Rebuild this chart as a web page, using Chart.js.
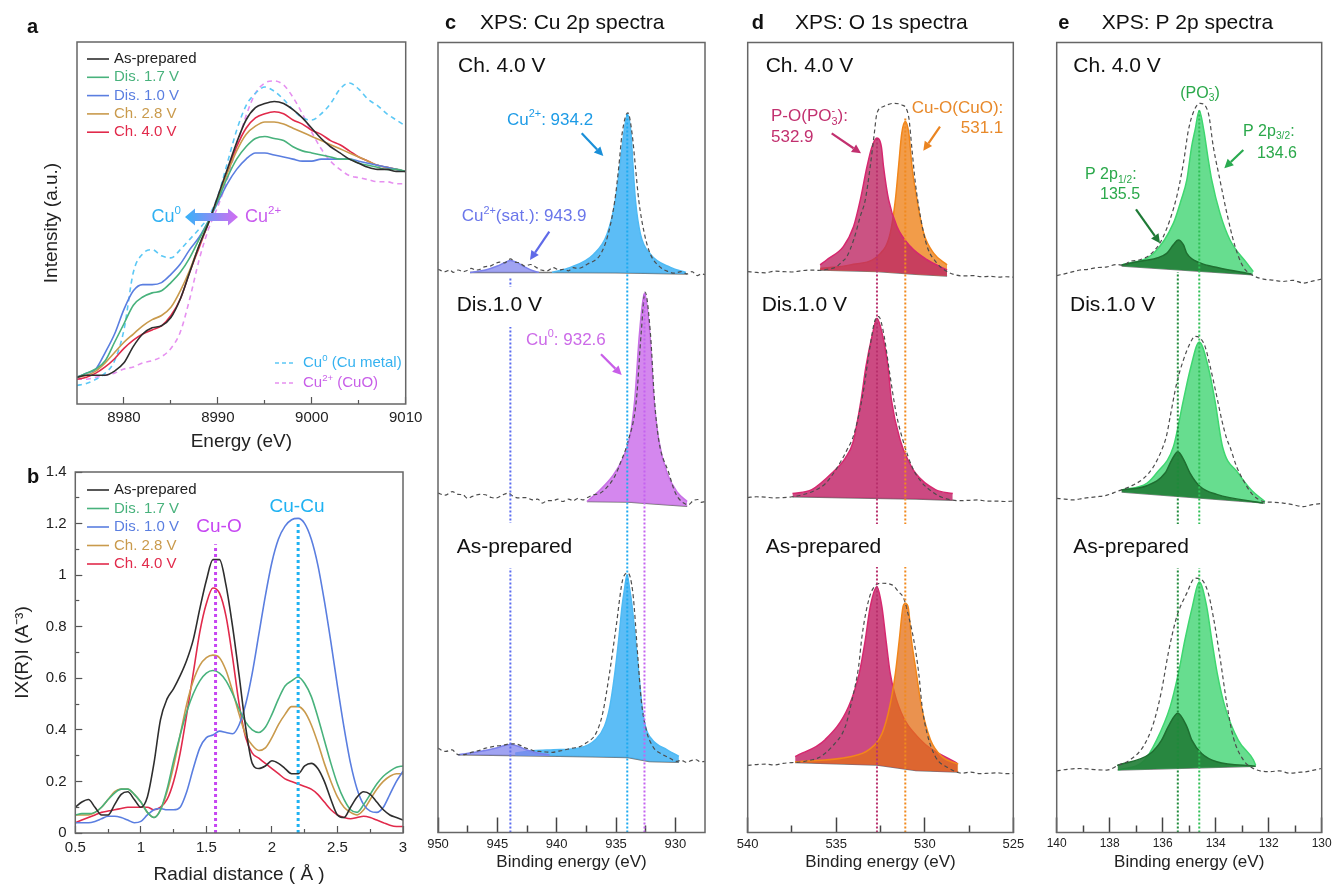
<!DOCTYPE html>
<html>
<head>
<meta charset="utf-8">
<script src="https://cdn.jsdelivr.net/npm/chart.js@4.4.0/dist/chart.umd.min.js"></script>
<style>
html, body { margin: 0; padding: 0; background: #fff; }
#wrap { position: relative; width: 1333px; height: 886px; overflow: hidden; background: #fff; }
canvas { position: absolute; }
</style>
</head>
<body>
<div id="wrap">
  <canvas id="chartA" width="440" height="455" style="left:0;top:0"></canvas>
  <canvas id="chartB" width="440" height="431" style="left:0;top:455px"></canvas>
  <canvas id="chartC" width="315" height="886" style="left:420px;top:0"></canvas>
  <canvas id="chartD" width="295" height="886" style="left:735px;top:0"></canvas>
  <canvas id="chartE" width="303" height="886" style="left:1030px;top:0"></canvas>
</div>
<script>
// ---------- DATA ----------
const seriesNames = ['As-prepared', 'Dis. 1.7 V', 'Dis. 1.0 V', 'Ch. 2.8 V', 'Ch. 4.0 V'];

// (a) Cu K-edge XANES, normalized
const xanesE = [8975, 8976, 8977, 8978, 8979, 8980, 8981, 8982, 8983, 8984, 8985, 8986, 8987, 8988, 8989, 8990, 8991, 8992,
  8993, 8994, 8995, 8996, 8997, 8998, 8999, 9000, 9001, 9002, 9003, 9004, 9005, 9006, 9007, 9008, 9009, 9010];
const xanesAsPrep = [0.00, 0.01, 0.01, 0.01, 0.03, 0.07, 0.15, 0.21, 0.24, 0.25, 0.29, 0.38, 0.51, 0.64, 0.75, 0.88, 1.01, 1.14,
  1.25, 1.31, 1.33, 1.34, 1.33, 1.30, 1.26, 1.21, 1.16, 1.12, 1.09, 1.06, 1.04, 1.02, 1.01, 1.01, 1.00, 1.00];
const xanesDis17 = [0.00, 0.02, 0.04, 0.08, 0.17, 0.26, 0.35, 0.39, 0.41, 0.42, 0.46, 0.51, 0.58, 0.67, 0.76, 0.86, 0.97, 1.06,
  1.12, 1.16, 1.17, 1.16, 1.15, 1.12, 1.10, 1.09, 1.08, 1.07, 1.06, 1.06, 1.04, 1.03, 1.02, 1.01, 1.01, 1.00];
const xanesDis10 = [0.00, 0.02, 0.04, 0.12, 0.21, 0.33, 0.42, 0.45, 0.45, 0.46, 0.50, 0.55, 0.62, 0.68, 0.76, 0.85, 0.94, 1.01,
  1.06, 1.09, 1.09, 1.08, 1.07, 1.06, 1.05, 1.05, 1.06, 1.06, 1.06, 1.06, 1.05, 1.04, 1.03, 1.02, 1.01, 1.00];
const xanesCh28 = [0.00, 0.01, 0.03, 0.07, 0.12, 0.17, 0.21, 0.25, 0.28, 0.30, 0.34, 0.42, 0.52, 0.64, 0.75, 0.87, 0.99, 1.10,
  1.18, 1.22, 1.24, 1.24, 1.23, 1.21, 1.19, 1.17, 1.15, 1.13, 1.11, 1.09, 1.07, 1.05, 1.03, 1.02, 1.01, 1.00];
const xanesCh40 = [-0.01, 0.00, 0.02, 0.05, 0.09, 0.14, 0.18, 0.21, 0.23, 0.25, 0.30, 0.38, 0.51, 0.63, 0.75, 0.87, 1.00, 1.12,
  1.21, 1.26, 1.28, 1.29, 1.28, 1.25, 1.23, 1.20, 1.18, 1.15, 1.13, 1.10, 1.07, 1.05, 1.03, 1.02, 1.01, 1.00];
const xanesCuMetal = [-0.04, -0.03, -0.01, 0.02, 0.08, 0.23, 0.51, 0.60, 0.62, 0.59, 0.58, 0.62, 0.67, 0.72, 0.78, 0.88, 1.04, 1.20,
  1.32, 1.38, 1.41, 1.39, 1.35, 1.30, 1.26, 1.25, 1.28, 1.33, 1.40, 1.43, 1.40, 1.35, 1.32, 1.28, 1.25, 1.22];
const xanesCuO = [-0.01, -0.01, 0.00, 0.01, 0.02, 0.04, 0.05, 0.07, 0.08, 0.10, 0.14, 0.22, 0.38, 0.57, 0.72, 0.83, 0.96, 1.12,
  1.27, 1.38, 1.43, 1.44, 1.42, 1.36, 1.28, 1.19, 1.11, 1.05, 1.01, 0.98, 0.97, 0.96, 0.95, 0.95, 0.94, 0.94];
const xanesTicks = [8980, 8990, 9000, 9010];
const xanesMinorTicks = [8985, 8995, 9005];

// (b) Fourier transformed EXAFS |X(R)|
const ftR = [0.5, 0.55, 0.6, 0.65, 0.7, 0.75, 0.8, 0.85, 0.9, 0.95, 1.0, 1.05, 1.1, 1.15, 1.2, 1.25, 1.3, 1.35, 1.4, 1.45,
  1.5, 1.55, 1.6, 1.65, 1.7, 1.75, 1.8, 1.85, 1.9, 1.95, 2.0, 2.05, 2.1, 2.15, 2.2, 2.25, 2.3, 2.35, 2.4, 2.45,
  2.5, 2.55, 2.6, 2.65, 2.7, 2.75, 2.8, 2.85, 2.9, 2.95, 3.0];
const ftAsPrep = [0.10, 0.12, 0.13, 0.10, 0.07, 0.07, 0.11, 0.15, 0.16, 0.13, 0.10, 0.14, 0.27, 0.44, 0.52, 0.56, 0.61, 0.67, 0.75, 0.87,
  0.98, 1.06, 1.06, 0.96, 0.80, 0.61, 0.41, 0.27, 0.25, 0.26, 0.28, 0.27, 0.25, 0.23, 0.23, 0.26, 0.27, 0.25, 0.20, 0.13,
  0.07, 0.06, 0.10, 0.14, 0.16, 0.15, 0.12, 0.09, 0.07, 0.06, 0.05];
const ftDis17 = [0.07, 0.075, 0.075, 0.08, 0.10, 0.13, 0.155, 0.17, 0.17, 0.15, 0.12, 0.08, 0.06, 0.09, 0.17, 0.28, 0.38, 0.47, 0.54, 0.59,
  0.62, 0.63, 0.62, 0.59, 0.54, 0.48, 0.43, 0.40, 0.39, 0.41, 0.46, 0.52, 0.57, 0.59, 0.605, 0.58, 0.53, 0.45, 0.36, 0.27,
  0.19, 0.13, 0.09, 0.08, 0.11, 0.15, 0.19, 0.22, 0.24, 0.255, 0.26];
const ftDis10 = [0.04, 0.04, 0.04, 0.045, 0.055, 0.065, 0.065, 0.06, 0.05, 0.04, 0.045, 0.07, 0.09, 0.095, 0.09, 0.09, 0.10, 0.16, 0.25, 0.33,
  0.37, 0.38, 0.395, 0.39, 0.385, 0.42, 0.50, 0.62, 0.77, 0.92, 1.05, 1.14, 1.19, 1.215, 1.22, 1.20, 1.14, 1.04, 0.90, 0.74,
  0.57, 0.41, 0.27, 0.17, 0.11, 0.085, 0.08, 0.10, 0.15, 0.20, 0.24];
const ftCh28 = [0.07, 0.07, 0.07, 0.08, 0.10, 0.13, 0.16, 0.17, 0.17, 0.15, 0.12, 0.08, 0.06, 0.09, 0.16, 0.26, 0.38, 0.50, 0.59, 0.65,
  0.68, 0.69, 0.68, 0.63, 0.55, 0.46, 0.38, 0.34, 0.32, 0.33, 0.37, 0.42, 0.46, 0.49, 0.49, 0.47, 0.42, 0.35, 0.27, 0.20,
  0.14, 0.10, 0.08, 0.07, 0.09, 0.13, 0.17, 0.20, 0.22, 0.23, 0.23];
const ftCh40 = [0.04, 0.05, 0.06, 0.07, 0.08, 0.085, 0.09, 0.095, 0.10, 0.10, 0.10, 0.10, 0.09, 0.10, 0.13, 0.20, 0.31, 0.46, 0.62, 0.78,
  0.89, 0.95, 0.93, 0.84, 0.68, 0.50, 0.37, 0.31, 0.29, 0.27, 0.25, 0.23, 0.21, 0.20, 0.19, 0.18, 0.17, 0.15, 0.12, 0.09,
  0.07, 0.06, 0.055, 0.06, 0.065, 0.06, 0.05, 0.04, 0.03, 0.025, 0.025];
const ftBondR = [1.57, 2.2];        // Cu-O, Cu-Cu
const ftBondTop = [1.12, 1.21];
const ftTicksX = [0.5, 1, 1.5, 2, 2.5, 3];
const ftMinorX = [0.75, 1.25, 1.75, 2.25, 2.75];
const ftTicksY = [0, 0.2, 0.4, 0.6, 0.8, 1, 1.2, 1.4];
const ftMinorY = [0.1, 0.3, 0.5, 0.7, 0.9, 1.1, 1.3];

// (c) XPS Cu 2p : [binding energy, intensity above spectrum baseline]
const cuCh40Env = [[950.0, 0.4], [949.7, 0.2], [949.4, 0.1], [949.0, 0.3], [948.7, 0.0], [948.3, 0.3], [947.9, 0.1], [947.6, 0.2],
  [947.2, 0.5], [946.8, 0.3], [946.45, 0.4], [946.1, 0.7], [945.6, 0.8], [945.2, 1.1], [944.8, 1.3], [944.4, 1.2], [943.9, 1.7],
  [943.5, 1.3], [943.1, 1.2], [942.7, 0.8], [942.2, 1.0], [941.7, 0.6], [941.3, 0.3], [940.8, 0.2], [940.3, 0.6], [939.8, 0.3],
  [939.4, 0.4], [939.0, 0.2], [938.6, 0.6], [938.2, 0.5], [937.4, 1.05], [936.3, 2.3], [935.66, 4.85], [935.1, 9.1],
  [934.77, 13.3], [934.49, 17.5], [934.0, 20.2], [933.64, 17.5], [933.36, 13.3], [933.08, 9.1], [932.6, 4.85], [932.1, 2.3],
  [931.25, 0.63], [930.6, 0.1], [930.1, -0.1], [929.5, 0.1], [929.0, -0.2], [928.6, 0.1], [928.15, -0.4], [927.8, -0.2], [927.5, -0.3]];
const cuCh40Main = [[940.4, 0.0], [938.85, 0.63], [936.88, 2.3], [935.75, 4.85], [935.05, 9.1], [934.69, 13.3], [934.35, 17.5],
  [934.05, 20.0], [933.73, 17.5], [933.56, 13.3], [933.36, 9.1], [932.94, 4.85], [932.1, 2.3], [930.41, 0.63], [929.1, 0.0]];
const cuCh40Sat = [[947.3, 0.0], [946.0, 0.3], [945.0, 0.8], [944.3, 1.3], [943.9, 1.5], [943.4, 1.3], [942.7, 0.7], [942.0, 0.2], [941.5, 0.0]];
const cuCh40Bg = [[947.3, 0.0], [940.0, 0.0], [935.0, -0.05], [929.0, -0.2]];

const cuDis10Env = [[950.0, 1.05], [949.4, 0.8], [948.8, 1.25], [948.3, 0.9], [947.9, 0.85], [947.5, 0.4], [947.1, 0.65], [946.5, 0.9],
  [946.0, 0.85], [945.5, 0.5], [945.1, 0.45], [944.6, 0.8], [944.1, 1.05], [943.6, 0.6], [943.2, 0.45], [942.6, 0.5], [942.0, 0.2],
  [941.6, 0.3], [941.2, -0.2], [940.8, 0.1], [940.3, 0.1], [939.9, 0.3], [939.5, 0.0], [939.0, 0.3], [938.6, 0.1], [938.2, 0.4],
  [937.8, 0.2], [937.4, 0.5], [936.9, 0.85], [936.4, 1.0], [935.7, 1.9], [935.1, 3.2], [934.6, 5.0], [934.03, 7.4], [933.28, 12.9],
  [932.88, 21.3], [932.55, 26.5], [932.1, 21.3], [931.76, 12.9], [931.4, 7.8], [930.55, 3.6], [929.99, 1.06], [929.3, -0.2],
  [928.9, -0.4], [928.5, 0.1], [928.1, 0.25], [927.8, -0.1], [927.5, 0.0]];
const cuDis10Main = [[937.45, 0.0], [936.6, 1.1], [935.3, 3.2], [934.5, 5.2], [933.83, 8.2], [933.42, 12.9], [933.02, 21.3], [932.6, 26.4],
  [932.15, 21.3], [931.8, 12.9], [931.4, 7.8], [930.7, 3.6], [929.8, 1.1], [929.0, 0.0]];
const cuDis10Bg = [[937.45, 0.0], [934.0, -0.05], [932.0, -0.3], [929.0, -0.6]];

const cuAsEnv = [[950.0, 0.84], [949.6, 0.5], [949.35, 0.42], [948.79, 0.63], [948.5, 0.2], [948.23, 0.0], [947.66, 0.05], [947.2, 0.3],
  [946.82, 0.42], [946.4, 0.6], [945.97, 0.84], [945.5, 1.0], [945.13, 1.1], [944.5, 1.2], [943.94, 1.39], [943.16, 1.26], [942.7, 0.9],
  [942.31, 0.72], [941.9, 0.5], [941.47, 0.42], [940.9, 0.35], [940.34, 0.3], [939.9, 0.45], [939.5, 0.55], [939.1, 0.7], [938.65, 0.84],
  [938.1, 1.0], [937.53, 1.48], [936.68, 2.74], [936.12, 5.27], [935.55, 10.3], [934.99, 16.2], [934.43, 22.2], [934.0, 23.0],
  [933.58, 20.5], [933.16, 12.4], [932.88, 7.0], [932.46, 3.2], [931.9, 1.05], [931.05, 0.0], [930.5, -0.4], [929.93, -0.84],
  [929.5, -0.7], [929.08, -0.97], [928.6, -0.7], [928.24, -0.63], [927.9, -0.9], [927.53, -0.84]];
const cuAsMain = [[943.5, 0.2], [942.0, 0.5], [940.26, 0.63], [938.0, 0.9], [936.74, 1.9], [935.97, 3.6], [935.52, 6.1], [935.1, 10.3],
  [934.77, 14.6], [934.49, 18.8], [934.29, 20.9], [934.07, 22.8], [933.84, 20.9], [933.64, 18.8], [933.36, 14.6], [933.08, 10.3],
  [932.8, 6.1], [932.52, 3.6], [931.95, 1.9], [930.69, 0.63], [929.7, -0.2]];
const cuAsSat = [[948.3, 0.0], [946.5, 0.4], [945.0, 0.9], [944.3, 1.2], [943.9, 1.3], [943.3, 1.1], [942.5, 0.6], [941.5, 0.2], [940.6, 0.0]];
const cuAsBg = [[948.3, 0.0], [937.0, -0.25], [934.0, -0.35], [932.2, -0.85], [929.7, -0.95]];

const cuPeakE = [943.9, 934.05, 932.6];     // sat., Cu2+, Cu0
const cuPeakTop = [70.2, 91.1, 68.3];
const cuTicks = [950, 945, 940, 935, 930];
const cuMinorTicks = [947.5, 942.5, 937.5, 932.5];

// (d) XPS O 1s
const oCh40Env = [[540.0, 0.0], [539.5, -0.1], [539.0, -0.15], [538.5, 0.05], [538.0, 0.0], [537.5, -0.05], [537.0, 0.1], [536.5, 0.2],
  [536.0, 0.15], [535.5, 0.3], [535.0, 0.6], [534.7, 1.2], [534.4, 1.9], [534.02, 4.0], [533.64, 7.0], [533.36, 9.07], [533.08, 13.3],
  [532.85, 17.5], [532.7, 20.05], [532.33, 20.9], [531.76, 21.3], [531.29, 21.1], [530.91, 19.6], [530.72, 15.4], [530.53, 11.2],
  [530.25, 7.0], [529.87, 3.2], [529.3, 1.05], [528.74, 0.0], [528.3, -0.4], [527.8, -0.55], [527.3, -0.5], [526.8, -0.65],
  [526.3, -0.6], [525.8, -0.7], [525.4, -0.65], [525.0, -0.7]];
const oCh40PO = [[535.91, 0.85], [535.53, 1.5], [534.59, 3.2], [534.02, 5.7], [533.64, 9.07], [533.26, 13.3], [532.98, 15.8], [532.7, 16.9],
  [532.45, 15.8], [532.33, 13.3], [532.04, 9.07], [531.57, 5.7], [530.82, 3.2], [529.87, 1.5], [528.74, 0.2]];
const oCh40CuO = [[535.91, 0.4], [534.21, 0.85], [532.51, 2.3], [531.95, 4.85], [531.66, 9.07], [531.48, 13.3], [531.3, 17.5], [531.1, 19.0],
  [530.9, 17.5], [530.72, 13.3], [530.44, 9.07], [530.06, 4.85], [529.49, 2.3], [528.74, 0.85]];
const oCh40Bg = [[535.91, 0.2], [532.7, 0.0], [530.5, -0.35], [528.74, -0.55]];

const oDis10Env = [[540.0, 0.0], [539.5, 0.1], [539.0, 0.05], [538.5, -0.05], [538.0, 0.0], [537.5, 0.1], [537.0, 0.3], [536.3, 0.8],
  [535.6, 1.8], [535.0, 3.6], [534.4, 6.0], [534.0, 8.0], [533.5, 13.0], [533.1, 19.0], [532.8, 22.5], [532.6, 22.9], [532.3, 20.5],
  [532.0, 16.0], [531.6, 10.5], [531.2, 7.0], [530.7, 3.8], [530.2, 2.0], [529.5, 0.6], [529.0, 0.0], [528.5, -0.3], [528.0, -0.4],
  [527.5, -0.35], [527.0, -0.3], [526.5, -0.45], [526.0, -0.45], [525.5, -0.5], [525.0, -0.45]];
const oDis10PO = [[537.47, 0.5], [536.38, 1.0], [535.24, 3.1], [534.49, 5.0], [534.05, 7.0], [533.6, 12.3], [533.32, 16.6], [532.94, 20.8],
  [532.7, 22.7], [532.41, 20.8], [532.08, 16.6], [531.88, 12.3], [531.35, 7.0], [531.0, 5.0], [530.53, 3.1], [529.4, 1.0], [528.42, 0.5]];
const oDis10Bg = [[537.47, 0.1], [533.0, -0.1], [530.5, -0.2], [528.42, -0.35]];

const oAsEnv = [[540.0, -0.05], [539.5, 0.05], [539.0, 0.1], [538.45, 0.0], [538.0, 0.2], [537.5, 0.3], [536.94, 0.4], [536.5, 0.6],
  [536.0, 0.9], [535.25, 2.3], [534.49, 4.85], [534.11, 8.2], [533.74, 12.4], [533.55, 16.2], [533.26, 20.0], [532.98, 22.1],
  [532.41, 23.0], [531.85, 22.8], [531.47, 21.9], [531.19, 21.1], [530.91, 18.8], [530.62, 15.8], [530.34, 11.6], [530.15, 7.4],
  [529.87, 4.0], [529.4, 1.05], [528.64, -0.4], [527.89, -1.05], [527.4, -0.9], [526.9, -1.1], [526.38, -1.05], [525.9, -1.0],
  [525.4, -1.1], [524.96, -1.05]];
const oAsPO = [[537.32, 1.05], [535.63, 3.2], [534.3, 7.4], [533.7, 11.6], [533.36, 15.8], [533.08, 20.0], [532.7, 22.55], [532.42, 20.0],
  [532.19, 15.8], [531.95, 11.6], [531.47, 7.4], [530.25, 3.2], [528.17, 0.2]];
const oAsCuO = [[537.32, 0.4], [534.22, 1.05], [533.17, 1.9], [532.41, 4.0], [531.98, 7.4], [531.66, 11.6], [531.44, 15.8], [531.23, 20.0],
  [531.1, 20.45], [530.94, 20.0], [530.75, 15.8], [530.47, 11.6], [530.19, 7.4], [529.68, 3.2], [529.02, 1.05], [528.11, 0.1]];
const oAsBg = [[537.32, 0.3], [532.7, 0.0], [530.5, -0.7], [528.1, -0.9]];

const oPeakE = [532.7, 531.1];     // P-O, Cu-O
const oPeakTop = [87.9, 90.6];
const oTicks = [540, 535, 530, 525];
const oMinorTicks = [537.5, 532.5, 527.5];

// (e) XPS P 2p
const pCh40Env = [[140.0, -0.6], [139.6, -0.3], [139.12, 0.1], [138.8, 0.2], [138.49, 0.4], [138.1, 0.5], [137.74, 0.8], [137.5, 0.7],
  [137.23, 1.2], [136.86, 1.4], [136.42, 2.2], [135.98, 4.3], [135.47, 9.4], [135.22, 13.6], [135.03, 17.8], [134.8, 20.4],
  [134.59, 21.2], [134.28, 20.0], [134.09, 15.7], [133.84, 11.5], [133.58, 7.3], [133.27, 3.1], [132.96, 0.5], [132.64, -0.5],
  [132.2, -1.05], [131.8, -1.2], [131.45, -1.35], [131.1, -1.2], [130.69, -1.55], [130.35, -1.3], [130.0, -1.05]];
const pCh40Main = [[137.55, 0.75], [136.35, 2.2], [135.6, 6.0], [135.3, 9.0], [135.09, 11.5], [134.91, 15.7], [134.78, 17.8], [134.62, 20.3],
  [134.45, 17.8], [134.3, 14.5], [134.15, 11.5], [133.84, 7.3], [133.46, 3.9], [132.83, 1.0], [132.58, -0.1]];
const pCh40Minor = [[137.55, 0.75], [136.86, 1.2], [135.85, 2.2], [135.6, 3.3], [135.41, 3.9], [135.22, 3.3], [135.09, 2.2], [134.59, 1.0],
  [133.9, 0.4], [132.65, -0.4]];
const pCh40Bg = [[137.55, 0.6], [132.6, -0.5]];

const pDis10Env = [[140.0, 0.0], [139.7, -0.1], [139.37, -0.2], [139.0, 0.0], [138.49, 0.2], [138.1, 0.4], [137.74, 0.85], [137.23, 1.5],
  [136.73, 2.5], [136.35, 4.0], [136.04, 6.1], [135.85, 8.0], [135.72, 10.3], [135.47, 14.6], [135.22, 17.5], [134.97, 19.6],
  [134.78, 20.5], [134.59, 20.3], [134.4, 19.2], [134.21, 16.7], [133.96, 12.9], [133.77, 9.9], [133.58, 7.5], [133.46, 6.5],
  [133.21, 4.0], [132.96, 2.3], [132.64, 0.6], [132.2, -0.4], [131.8, -0.5], [131.45, -0.6], [131.1, -0.8], [130.69, -1.05],
  [130.35, -0.8], [130.0, -0.65]];
const pDis10Main = [[137.55, 1.05], [136.6, 1.9], [136.23, 3.2], [135.6, 6.5], [135.22, 12.4], [134.94, 16.6], [134.62, 19.8], [134.28, 16.6],
  [134.03, 12.4], [133.74, 6.5], [133.15, 3.2], [132.64, 1.0], [132.14, -0.4]];
const pDis10Minor = [[137.55, 1.05], [136.6, 1.6], [135.91, 3.2], [135.66, 4.85], [135.43, 5.9], [135.2, 4.85], [134.97, 3.2], [134.59, 1.5],
  [133.96, 0.5], [132.2, -0.6]];
const pDis10Bg = [[137.55, 0.8], [132.14, -0.6]];

const pAsEnv = [[140.0, -0.1], [139.6, 0.1], [139.12, 0.2], [138.7, 0.1], [138.11, 0.0], [137.68, 0.6], [137.23, 1.3], [136.73, 3.0],
  [136.35, 5.9], [136.04, 10.1], [135.79, 14.8], [135.47, 19.4], [135.09, 22.4], [134.78, 24.3], [134.53, 24.1], [134.28, 22.4],
  [134.09, 19.4], [133.84, 14.3], [133.58, 8.4], [133.34, 4.2], [132.96, 1.3], [132.58, 0.2], [131.95, -0.2], [131.6, -0.1],
  [131.19, -0.4], [130.9, -0.3], [130.56, -0.2], [130.3, 0.0], [130.0, 0.2]];
const pAsMain = [[137.68, 0.0], [136.7, 1.2], [136.23, 3.8], [135.72, 8.0], [135.41, 12.2], [135.16, 16.5], [134.88, 20.7], [134.62, 23.8],
  [134.34, 20.7], [134.15, 16.5], [133.94, 12.2], [133.65, 8.0], [133.15, 3.8], [132.58, 1.3], [132.49, 0.6]];
const pAsMinor = [[137.72, 0.6], [136.47, 2.1], [136.04, 3.8], [135.79, 5.5], [135.43, 7.2], [135.09, 5.5], [134.9, 3.8], [134.53, 2.1],
  [133.96, 1.05], [132.49, 0.5]];
const pAsBg = [[137.7, 0.0], [132.5, 0.5]];

const pPeakE = [135.43, 134.62];   // P 2p1/2, P 2p3/2
const pPeakTop = [70.95, 91.5];
const pTicks = [140, 138, 136, 134, 132, 130];
const pMinorTicks = [139, 137, 135, 133, 131];

// ---------- LAYOUT / STYLE ----------
const FONT = '"Liberation Sans", Arial, Helvetica, sans-serif';
Chart.defaults.font.family = FONT;
Chart.defaults.color = '#222';

const lineColors = ['#2e2e2e', '#48b27c', '#5a7ee0', '#c99a4c', '#e12a4b'];
// stacking offsets (Ch. 4.0 V, Dis. 1.0 V, As-prepared), in y-units of the 0..100 plot
const cuStack = [70.9, 41.9, 9.84];
const oStack = [71.0, 42.4, 8.55];
const pStack = [71.1, 42.3, 7.9];

function f(size, bold) { return (bold ? 'bold ' : '') + size + 'px ' + FONT; }
const pts = (xs, ys) => xs.map((x, i) => ({ x: x, y: ys[i] }));

function text(ctx, s, x, y, size, color, align, bold) {
  ctx.save();
  ctx.font = f(size, bold);
  ctx.fillStyle = color;
  ctx.textAlign = align || 'left';
  ctx.textBaseline = 'middle';
  ctx.fillText(s, x, y);
  ctx.restore();
}

// parts: [text, mode('', 'sup', 'sub'), stackWithNext]
function rich(ctx, parts, x, y, size, color, align) {
  ctx.save();
  ctx.fillStyle = color;
  ctx.textBaseline = 'middle';
  ctx.textAlign = 'left';
  const small = size * 0.64;
  const items = parts.map(p => {
    ctx.font = f(p[1] ? small : size);
    return { t: p[0], m: p[1] || '', st: !!p[2], w: ctx.measureText(p[0]).width };
  });
  let total = 0;
  for (let i = 0; i < items.length; i++) {
    if (items[i].st && i + 1 < items.length) { total += Math.max(items[i].w, items[i + 1].w); i++; }
    else total += items[i].w;
  }
  let cx = align === 'right' ? x - total : align === 'center' ? x - total / 2 : x;
  const put = it => {
    ctx.font = f(it.m ? small : size);
    const dy = it.m === 'sup' ? -size * 0.33 : it.m === 'sub' ? size * 0.3 : 0;
    ctx.fillText(it.t, cx, y + dy);
  };
  for (let i = 0; i < items.length; i++) {
    const it = items[i];
    if (it.st && i + 1 < items.length) { put(it); put(items[i + 1]); cx += Math.max(it.w, items[i + 1].w); i++; }
    else { put(it); cx += it.w; }
  }
  ctx.restore();
}

function arrow(ctx, x1, y1, x2, y2, color, lw, hl, hw) {
  const a = Math.atan2(y2 - y1, x2 - x1);
  const bx = x2 - hl * Math.cos(a), by = y2 - hl * Math.sin(a);
  ctx.save();
  ctx.strokeStyle = color; ctx.fillStyle = color; ctx.lineWidth = lw;
  ctx.beginPath(); ctx.moveTo(x1, y1); ctx.lineTo(bx, by); ctx.stroke();
  ctx.beginPath();
  ctx.moveTo(x2, y2);
  ctx.lineTo(bx + hw / 2 * Math.sin(a), by - hw / 2 * Math.cos(a));
  ctx.lineTo(bx - hw / 2 * Math.sin(a), by + hw / 2 * Math.cos(a));
  ctx.closePath(); ctx.fill();
  ctx.restore();
}

function frame(chart, color) {
  const a = chart.chartArea, ctx = chart.ctx;
  ctx.save();
  ctx.strokeStyle = color || '#666';
  ctx.lineWidth = 1.5;
  ctx.strokeRect(a.left, a.top, a.right - a.left, a.bottom - a.top);
  ctx.restore();
}

function legendRows(ctx, x0, y0, dy) {
  seriesNames.forEach((n, i) => {
    const y = y0 + i * dy;
    ctx.save();
    ctx.strokeStyle = lineColors[i]; ctx.lineWidth = 1.6;
    ctx.beginPath(); ctx.moveTo(x0, y); ctx.lineTo(x0 + 22, y); ctx.stroke();
    ctx.restore();
    text(ctx, n, x0 + 27, y, 15, i === 0 ? '#222' : lineColors[i]);
  });
}

// no extra layout padding from tick labels: chart areas are placed exactly
function noPad(s) { s.paddingLeft = 0; s.paddingRight = 0; s.paddingTop = 0; s.paddingBottom = 0; }

function tickAxis(min, max, major, minor, reverse, o) {
  const common = { type: 'linear', min: min, max: max, reverse: !!reverse, border: { display: false } };
  const majorAxis = Object.assign({}, common, {
    position: o.position, weight: 1,
    afterBuildTicks: s => { s.ticks = major.map(v => ({ value: v })); },
    afterFit: s => { if (o.position === 'left') s.width = o.size; else s.height = o.size; noPad(s); },
    ticks: { display: o.labels !== false, font: { size: o.font }, color: '#222', padding: o.pad, autoSkip: false, maxRotation: 0,
      callback: v => String(v) },
    grid: { display: o.ticks !== false, drawOnChartArea: false, tickLength: -o.len, tickColor: o.tickColor || '#555', tickWidth: o.tickWidth || 1.2 },
    title: o.title ? { display: true, text: o.title, font: { size: o.titleSize }, color: '#222', padding: o.titlePad } : { display: false }
  });
  const minorAxis = Object.assign({}, common, {
    position: o.position, weight: 0,
    afterBuildTicks: s => { s.ticks = minor.map(v => ({ value: v })); },
    afterFit: s => { if (o.position === 'left') s.width = 0; else s.height = 0; noPad(s); },
    ticks: { display: false },
    grid: { display: o.ticks !== false, drawOnChartArea: false, tickLength: -o.minorLen, tickColor: o.tickColor || '#555', tickWidth: o.tickWidth || 1.2 }
  });
  return [majorAxis, minorAxis];
}

const baseOptions = {
  responsive: false,
  animation: false,
  events: [],
  plugins: { legend: { display: false }, tooltip: { enabled: false } },
  elements: { point: { radius: 0 } }
};

// ---------- (a) XANES ----------
(function () {
  const [xA, xA2] = tickAxis(8975, 9010, xanesTicks, xanesMinorTicks, false,
    { position: 'bottom', size: 51, font: 15, pad: 12, len: 7, minorLen: 4, title: 'Energy (eV)', titleSize: 19, titlePad: { top: 0, bottom: 1.6 } });
  const series = [xanesAsPrep, xanesDis17, xanesDis10, xanesCh28, xanesCh40];
  const datasets = series.map((s, i) => ({
    data: pts(xanesE, s), borderColor: lineColors[i], borderWidth: 1.6, pointRadius: 0, fill: false, cubicInterpolationMode: 'monotone'
  }));
  datasets.push({ data: pts(xanesE, xanesCuMetal), borderColor: '#5cc8f5', borderWidth: 1.6, borderDash: [5, 4], pointRadius: 0, fill: false, cubicInterpolationMode: 'monotone' });
  datasets.push({ data: pts(xanesE, xanesCuO), borderColor: '#e690f0', borderWidth: 1.6, borderDash: [5, 4], pointRadius: 0, fill: false, cubicInterpolationMode: 'monotone' });

  new Chart(document.getElementById('chartA'), {
    type: 'line',
    data: { datasets: datasets },
    options: Object.assign({}, baseOptions, {
      layout: { autoPadding: false, padding: { left: 0, right: 34.3, top: 42, bottom: 0 } },
      scales: {
        x: xA, x2: xA2,
        y: { type: 'linear', min: -0.13, max: 1.629, afterFit: s => { s.width = 77; noPad(s); },
          ticks: { display: false }, grid: { display: false }, border: { display: false },
          title: { display: true, text: 'Intensity (a.u.)', font: { size: 19 }, color: '#222', padding: { top: 40.6, bottom: 0 } } }
      }
    }),
    plugins: [{
      id: 'annA',
      afterDraw(chart) {
        const ctx = chart.ctx;
        frame(chart);
        text(ctx, 'a', 27, 27, 20, '#111', 'left', true);
        legendRows(ctx, 87, 59, 18.3);
        // Cu0 <-> Cu2+ arrow
        rich(ctx, [['Cu', ''], ['0', 'sup']], 151.5, 217, 18, '#2fb0f2', 'left');
        const g = ctx.createLinearGradient(185, 0, 238, 0);
        g.addColorStop(0, '#36b3f8'); g.addColorStop(1, '#d36cf2');
        ctx.save();
        ctx.fillStyle = g;
        ctx.beginPath();
        ctx.moveTo(185, 217); ctx.lineTo(195, 208.5); ctx.lineTo(195, 213); ctx.lineTo(228, 213); ctx.lineTo(228, 208.5);
        ctx.lineTo(238, 217); ctx.lineTo(228, 225.5); ctx.lineTo(228, 221); ctx.lineTo(195, 221); ctx.lineTo(195, 225.5);
        ctx.closePath(); ctx.fill();
        ctx.restore();
        rich(ctx, [['Cu', ''], ['2+', 'sup']], 245, 217, 18, '#c85cee', 'left');
        // reference legend
        [['#5cc8f5', '#35b2f0', [['Cu', ''], ['0', 'sup'], [' (Cu metal)', '']], 363],
         ['#e690f0', '#c85ee8', [['Cu', ''], ['2+', 'sup'], [' (CuO)', '']], 383]].forEach(r => {
          ctx.save();
          ctx.strokeStyle = r[0]; ctx.lineWidth = 1.6; ctx.setLineDash([4, 3]);
          ctx.beginPath(); ctx.moveTo(275, r[3]); ctx.lineTo(296, r[3]); ctx.stroke();
          ctx.restore();
          rich(ctx, r[2], 303, r[3], 15, r[1], 'left');
        });
      }
    }]
  });
})();

// ---------- (b) FT-EXAFS ----------
(function () {
  const [xB, xB2] = tickAxis(0.5, 3, ftTicksX, ftMinorX, false,
    { position: 'bottom', size: 53, font: 15, pad: 13, len: 7, minorLen: 4, title: 'Radial distance ( \u00C5 )', titleSize: 19, titlePad: { top: 0, bottom: 0 } });
  const [yB, yB2] = tickAxis(0, 1.4, ftTicksY, ftMinorY, false,
    { position: 'left', size: 75.3, font: 15, pad: 15.6, len: 7, minorLen: 4, title: 'IX(R)I (A\u207B\u00B3)', titleSize: 19, titlePad: { top: 11.6, bottom: 0 } });
  const series = [ftAsPrep, ftDis17, ftDis10, ftCh28, ftCh40];
  const bondColors = ['#c646f2', '#1fb2f2'];
  const datasets = ftBondR.map((r, i) => ({
    data: [{ x: r, y: 0 }, { x: r, y: ftBondTop[i] }], borderColor: bondColors[i], borderWidth: 3, borderDash: [3, 3],
    pointRadius: 0, fill: false, xAxisID: 'x', yAxisID: 'y'
  }));
  series.forEach((s, i) => datasets.push({
    data: pts(ftR, s), borderColor: lineColors[i], borderWidth: 1.6, pointRadius: 0, fill: false, cubicInterpolationMode: 'monotone',
    xAxisID: 'x', yAxisID: 'y'
  }));

  new Chart(document.getElementById('chartB'), {
    type: 'line',
    data: { datasets: datasets },
    options: Object.assign({}, baseOptions, {
      layout: { autoPadding: false, padding: { left: 0, right: 37, top: 17, bottom: 0 } },
      scales: { x: xB, x2: xB2, y: yB, y2: yB2 }
    }),
    plugins: [{
      id: 'annB',
      afterDraw(chart) {
        const ctx = chart.ctx;
        frame(chart);
        ctx.save(); ctx.translate(0, -455);
        text(ctx, 'b', 27, 477, 20, '#111', 'left', true);
        legendRows(ctx, 87, 490, 18.5);
        text(ctx, 'Cu-O', 219, 527, 19, '#c646f2', 'center');
        text(ctx, 'Cu-Cu', 297, 507, 19, '#1fb2f2', 'center');
        ctx.restore();
      }
    }]
  });
})();

// ---------- XPS helpers ----------
function xpsDatasets(spectra, peakE, peakTop, peakColors) {
  const ds = [];
  peakE.forEach((e, i) => ds.push({
    data: [{ x: e, y: 0 }, { x: e, y: peakTop[i] }], borderColor: peakColors[i], borderWidth: 2, borderDash: [2, 2],
    pointRadius: 0, fill: false
  }));
  spectra.forEach(sp => {
    const sh = p => p.map(q => ({ x: q[0], y: q[1] + sp.offset }));
    ds.push({ data: sh(sp.env), borderColor: '#4d4d4d', borderWidth: 1.2, borderDash: [4, 3], pointRadius: 0, fill: false,
      cubicInterpolationMode: 'monotone' });
    const bgIndex = ds.length + sp.comps.length;
    // earlier components are drawn on top
    sp.comps.forEach(c => ds.push({
      data: sh(c.pts), borderColor: c.line, backgroundColor: c.fill, borderWidth: 1.5, pointRadius: 0, fill: bgIndex,
      cubicInterpolationMode: 'monotone'
    }));
    ds.push({ data: sh(sp.bg), borderColor: '#7a7a7a', borderWidth: 1.5, pointRadius: 0, fill: false });
  });
  return ds;
}

function xpsOptions(min, max, major, minor, font, pad, padding) {
  const [x, x2] = tickAxis(min, max, major, minor, true,
    { position: 'bottom', size: 53.5, font: font, pad: pad, len: 15, minorLen: 7, tickColor: '#444', tickWidth: 1.5,
      title: 'Binding energy (eV)', titleSize: 17, titlePad: { top: 0, bottom: 13.1 } });
  return Object.assign({}, baseOptions, {
    layout: { autoPadding: false, padding: padding },
    scales: { x: x, x2: x2, y: { display: false, min: 0, max: 100 } }
  });
}

function whiteBoxes(ctx, boxes) {
  ctx.save();
  ctx.fillStyle = '#ffffff';
  boxes.forEach(b => ctx.fillRect(b[0], b[1], b[2], b[3]));
  ctx.restore();
}

function stateLabels(ctx, xs, ys) {
  const names = ['Ch. 4.0 V', 'Dis.1.0 V', 'As-prepared'];
  names.forEach((n, i) => text(ctx, n, xs[i], ys[i], 21, '#111', 'left'));
}

// ---------- (c) Cu 2p ----------
(function () {
  const cyan = { fill: 'rgba(64,178,245,0.85)', line: '#4fbaf4' };
  const sat = { fill: 'rgba(128,132,238,0.75)', line: '#7c82ec' };
  const cu0 = { fill: 'rgba(206,118,236,0.88)', line: '#c870e6' };
  const spectra = [
    { offset: cuStack[0], env: cuCh40Env, bg: cuCh40Bg, comps: [Object.assign({ pts: cuCh40Sat }, sat), Object.assign({ pts: cuCh40Main }, cyan)] },
    { offset: cuStack[1], env: cuDis10Env, bg: cuDis10Bg, comps: [Object.assign({ pts: cuDis10Main }, cu0)] },
    { offset: cuStack[2], env: cuAsEnv, bg: cuAsBg, comps: [Object.assign({ pts: cuAsSat }, sat), Object.assign({ pts: cuAsMain }, cyan)] }
  ];
  new Chart(document.getElementById('chartC'), {
    type: 'line',
    data: { datasets: xpsDatasets(spectra, cuPeakE, cuPeakTop, ['#5b6cf0', '#1eaaf0', '#c462f0']) },
    options: xpsOptions(927.5, 950, cuTicks, cuMinorTicks, 13, 18.7, { left: 18, right: 30, top: 42.5, bottom: 0 }),
    plugins: [{
      id: 'annC',
      afterDatasetsDraw(chart) {
        const ctx = chart.ctx;
        ctx.save(); ctx.translate(-420, 0);
        whiteBoxes(ctx, [[440, 287, 123, 40], [440, 523, 152, 45]]);
        ctx.restore();
      },
      afterDraw(chart) {
        const ctx = chart.ctx;
        frame(chart);
        ctx.save(); ctx.translate(-420, 0);
        text(ctx, 'c', 445, 23, 20, '#111', 'left', true);
        text(ctx, 'XPS: Cu 2p spectra', 480, 23, 21, '#111', 'left');
        stateLabels(ctx, [458, 456.7, 456.7], [66, 305, 547.5]);
        rich(ctx, [['Cu', ''], ['2+', 'sup'], [': 934.2', '']], 507, 120, 17, '#1d9be6', 'left');
        arrow(ctx, 581.7, 133.3, 603.3, 156, '#1a8fd8', 2.2, 9, 9);
        rich(ctx, [['Cu', ''], ['2+', 'sup'], ['(sat.): 943.9', '']], 461.7, 216.7, 17, '#6a76ea', 'left');
        arrow(ctx, 549.3, 231.7, 530, 260, '#5f6ae8', 2.2, 9, 9);
        rich(ctx, [['Cu', ''], ['0', 'sup'], [': 932.6', '']], 526, 340, 17, '#cc6ae8', 'left');
        arrow(ctx, 601, 354.3, 621.7, 375, '#c85ee8', 2.2, 9, 9);
        ctx.restore();
      }
    }]
  });
})();

// ---------- (d) O 1s ----------
(function () {
  // Ch. 4.0 V: P-O over Cu-O ; As-prepared: Cu-O over P-O
  const poTop = { fill: 'rgba(190,40,100,0.8)', line: '#d6286f' };
  const cuoUnder = { fill: 'rgba(240,142,48,0.88)', line: '#f2861a' };
  const poUnder = { fill: 'rgba(196,44,110,0.86)', line: '#d6286f' };
  const cuoTop = { fill: 'rgba(228,112,24,0.76)', line: '#f2861a' };
  const spectra = [
    { offset: oStack[0], env: oCh40Env, bg: oCh40Bg, comps: [Object.assign({ pts: oCh40PO }, poTop), Object.assign({ pts: oCh40CuO }, cuoUnder)] },
    { offset: oStack[1], env: oDis10Env, bg: oDis10Bg, comps: [Object.assign({ pts: oDis10PO }, poUnder)] },
    { offset: oStack[2], env: oAsEnv, bg: oAsBg, comps: [Object.assign({ pts: oAsCuO }, cuoTop), Object.assign({ pts: oAsPO }, poUnder)] }
  ];
  new Chart(document.getElementById('chartD'), {
    type: 'line',
    data: { datasets: xpsDatasets(spectra, oPeakE, oPeakTop, ['#b8306c', '#f28a1e']) },
    options: xpsOptions(525, 540, oTicks, oMinorTicks, 13, 18.7, { left: 12.7, right: 16.7, top: 42.5, bottom: 0 }),
    plugins: [{
      id: 'annD',
      afterDatasetsDraw(chart) {
        const ctx = chart.ctx;
        ctx.save(); ctx.translate(-735, 0);
        whiteBoxes(ctx, [[749, 524, 165, 43]]);
        ctx.restore();
      },
      afterDraw(chart) {
        const ctx = chart.ctx;
        frame(chart);
        ctx.save(); ctx.translate(-735, 0);
        text(ctx, 'd', 751.7, 23, 20, '#111', 'left', true);
        text(ctx, 'XPS: O 1s spectra', 795, 23, 21, '#111', 'left');
        stateLabels(ctx, [765.7, 761.7, 765.7], [66, 305, 547.5]);
        rich(ctx, [['P-O(PO', ''], ['3', 'sub', true], ['-', 'sup'], ['):', '']], 771, 116.7, 17, '#c2306f', 'left');
        text(ctx, '532.9', 771, 137, 17, '#c2306f', 'left');
        arrow(ctx, 831.7, 133.3, 861, 153.3, '#c2306f', 2.2, 9, 9);
        text(ctx, 'Cu-O(CuO):', 1003.3, 108.3, 17, '#e8892a', 'right');
        text(ctx, '531.1', 1003.3, 128.3, 17, '#e8892a', 'right');
        arrow(ctx, 940, 126.7, 923.3, 150.7, '#ea8420', 2.2, 9, 9);
        ctx.restore();
      }
    }]
  });
})();

// ---------- (e) P 2p ----------
(function () {
  const main = { fill: 'rgba(82,216,128,0.88)', line: '#3fd770' };
  const minor = { fill: 'rgba(36,128,58,0.92)', line: '#1f6f31' };
  const spectra = [
    { offset: pStack[0], env: pCh40Env, bg: pCh40Bg, comps: [Object.assign({ pts: pCh40Minor }, minor), Object.assign({ pts: pCh40Main }, main)] },
    { offset: pStack[1], env: pDis10Env, bg: pDis10Bg, comps: [Object.assign({ pts: pDis10Minor }, minor), Object.assign({ pts: pDis10Main }, main)] },
    { offset: pStack[2], env: pAsEnv, bg: pAsBg, comps: [Object.assign({ pts: pAsMinor }, minor), Object.assign({ pts: pAsMain }, main)] }
  ];
  new Chart(document.getElementById('chartE'), {
    type: 'line',
    data: { datasets: xpsDatasets(spectra, pPeakE, pPeakTop, ['#1e8a3a', '#2fbf55']) },
    options: xpsOptions(130, 140, pTicks, pMinorTicks, 12, 19.3, { left: 26.7, right: 11.3, top: 42.5, bottom: 0 }),
    plugins: [{
      id: 'annE',
      afterDatasetsDraw(chart) {
        const ctx = chart.ctx;
        ctx.save(); ctx.translate(-1030, 0);
        whiteBoxes(ctx, [[1058, 524, 153, 44]]);
        ctx.restore();
      },
      afterDraw(chart) {
        const ctx = chart.ctx;
        frame(chart);
        ctx.save(); ctx.translate(-1030, 0);
        text(ctx, 'e', 1058.3, 23, 20, '#111', 'left', true);
        text(ctx, 'XPS: P 2p spectra', 1101.7, 23, 21, '#111', 'left');
        stateLabels(ctx, [1073.3, 1070, 1073.3], [66, 305, 547.5]);
        const g = '#2aa84a';
        rich(ctx, [['(PO', ''], ['3', 'sub', true], ['-', 'sup'], [')', '']], 1200, 93.3, 16, g, 'center');
        rich(ctx, [['P 2p', ''], ['3/2', 'sub'], [':', '']], 1243, 131.7, 16, g, 'left');
        text(ctx, '134.6', 1297, 153.3, 16, g, 'right');
        arrow(ctx, 1243.3, 150, 1224.3, 168.3, '#2aaa50', 2.2, 9, 9);
        rich(ctx, [['P 2p', ''], ['1/2', 'sub'], [':', '']], 1085, 175, 16, g, 'left');
        text(ctx, '135.5', 1100, 195, 16, g, 'left');
        arrow(ctx, 1136, 209.3, 1160, 243.3, '#1e7a36', 2.2, 9, 9);
        ctx.restore();
      }
    }]
  });
})();
</script>
</body>
</html>
